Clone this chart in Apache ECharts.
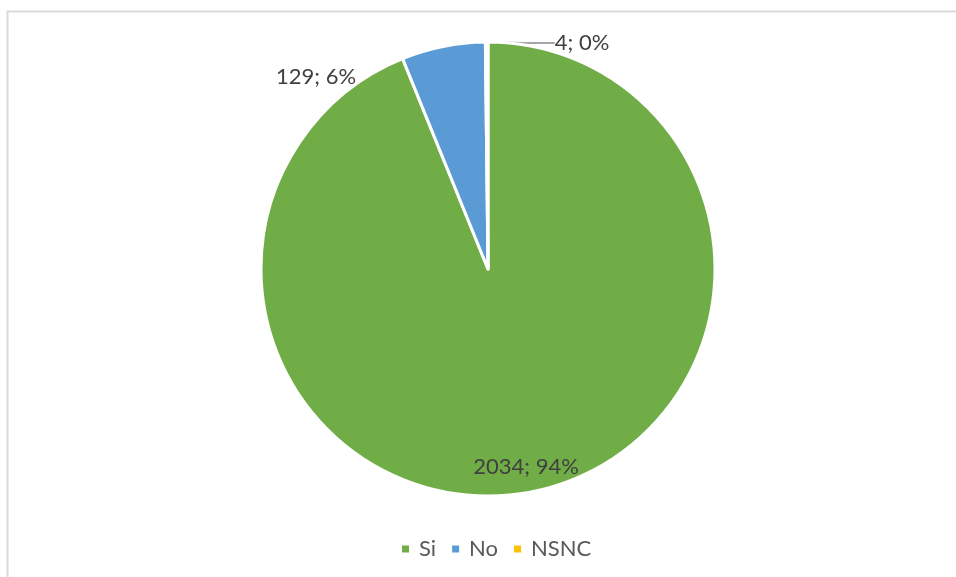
<!DOCTYPE html>
<html>
<head>
<meta charset="utf-8">
<script src="https://cdn.jsdelivr.net/npm/echarts@6/dist/echarts.min.js"></script>
<style>
  html, body { margin: 0; padding: 0; background: #fff; }
  #chart { width: 956px; height: 577px; }
</style>
</head>
<body>
<div id="chart"></div>
<script>
// categorie e valori
const categories = ['Si', 'No', 'NSNC']
const values = [2034, 129, 4]
const colors = ['#70AD47', '#5B9BD5', '#FFC000']
// posizioni etichette (come in Excel)
const labelPos = [[526, 467], [316, 77], [582, 43]]

const chart = echarts.init(document.getElementById('chart'))

chart.setOption({
  animation: false,
  textStyle: { fontFamily: 'Lato' },
  graphic: [
    {
      type: 'rect',
      shape: { x: 7.5, y: 11.5, width: 1000, height: 1000 },
      style: { fill: 'none', stroke: '#D9D9D9', lineWidth: 2 },
      silent: true
    }
  ],
  legend: {
    bottom: 12,
    left: 395,
    icon: 'rect',
    itemWidth: 9,
    itemHeight: 9,
    itemGap: 14,
    textStyle: { color: '#595959', fontSize: 22, fontFamily: 'Lato', padding: [0, 0, 0, 4] },
    data: categories
  },
  series: [
    {
      type: 'pie',
      center: [488, 269],
      radius: 227,
      startAngle: 90,
      clockwise: true,
      percentPrecision: 0,
      itemStyle: { borderColor: '#fff', borderWidth: 3 },
      label: {
        show: true,
        position: 'outside',
        formatter: '{c}; {d}%',
        color: '#404040',
        fontSize: 22,
        fontFamily: 'Lato'
      },
      labelLine: { show: true, lineStyle: { color: '#A6A6A6', width: 2 } },
      labelLayout: function (p) {
        const pos = labelPos[p.dataIndex]
        return { x: pos[0], y: pos[1], align: 'center', verticalAlign: 'middle' }
      },
      data: categories.map((name, i) => ({
        name: name,
        value: values[i],
        itemStyle: { color: colors[i] },
        labelLine: { show: i === 2 }
      }))
    }
  ]
})
</script>
</body>
</html>
